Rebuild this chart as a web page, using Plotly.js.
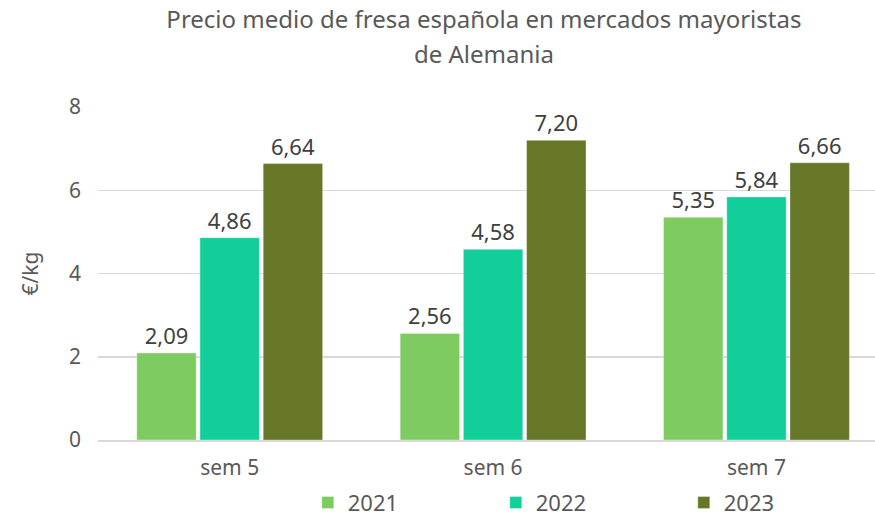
<!DOCTYPE html>
<html>
<head>
<meta charset="utf-8">
<script src="https://cdn.plot.ly/plotly-3.0.1.min.js"></script>
<style>html,body{margin:0;padding:0;background:#fff;}#chart{width:875px;height:518px;}</style>
</head>
<body>
<div id="chart"></div>
<script>
const categories = ["sem 5", "sem 6", "sem 7"];
const seriesNames = ["2021", "2022", "2023"];
const values2021 = [2.09, 2.56, 5.35];
const values2022 = [4.86, 4.58, 5.84];
const values2023 = [6.64, 7.20, 6.66];
const colors = ["#7ECB62", "#12CF9A", "#667728"];
const yTicks = [0, 2, 4, 6, 8];
const titleLines = ["Precio medio de fresa española en mercados mayoristas", "de Alemania"];

const fmt = v => v.toFixed(2).replace('.', ',');
const font = "Noto Sans";

const allValues = [values2021, values2022, values2023];
const traces = allValues.map((vals, i) => ({
  type: 'bar',
  name: seriesNames[i],
  x: categories,
  y: vals,
  text: vals.map(fmt),
  textposition: 'outside',
  cliponaxis: false,
  textfont: {family: font, size: 22, color: '#404040'},
  marker: {color: colors[i], line: {color: 'rgba(255,255,255,0.35)', width: 1}},
  hoverinfo: 'none'
}));

const layout = {
  width: 875, height: 518,
  margin: {l: 98, r: 0, t: 107, b: 78, autoexpand: false},
  paper_bgcolor: '#fff', plot_bgcolor: '#fff',
  barmode: 'group', bargap: 0.28, bargroupgap: 0.06,
  title: {
    text: titleLines.map(t => '<span style="font-size:24px">' + t + '</span>').join('<br>'),
    font: {family: font, size: 27, color: '#595959'},
    x: 0.553, xanchor: 'center', yref: 'container', y: 0.946, yanchor: 'top'
  },
  xaxis: {
    type: 'category', range: [-0.5, 2.45],
    tickfont: {family: font, size: 21, color: '#595959'},
    showline: true, linecolor: '#d9d9d9', linewidth: 1.5,
    ticks: '', showgrid: false, ticklabelstandoff: 8
  },
  yaxis: {
    range: [0, 8], tickvals: yTicks, ticktext: yTicks.map(String),
    tickfont: {family: font, size: 21, color: '#595959'},
    showgrid: true, gridcolor: '#d9d9d9', gridwidth: 1.5,
    zeroline: false, showline: false, ticks: '', ticklabelstandoff: 16,
    title: {text: '€/kg', font: {family: font, size: 21, color: '#595959'}, standoff: 24}
  },
  legend: {
    orientation: 'h', x: 0.27, xanchor: 'left', yref: 'container', y: 0.07, yanchor: 'top',
    font: {family: font, size: 22, color: '#595959'},
    entrywidth: 143, entrywidthmode: 'pixels', itemwidth: 30, traceorder: 'normal'
  },
  showlegend: true
};

Plotly.newPlot('chart', traces, layout, {displayModeBar: false, staticPlot: true});
</script>
</body>
</html>
